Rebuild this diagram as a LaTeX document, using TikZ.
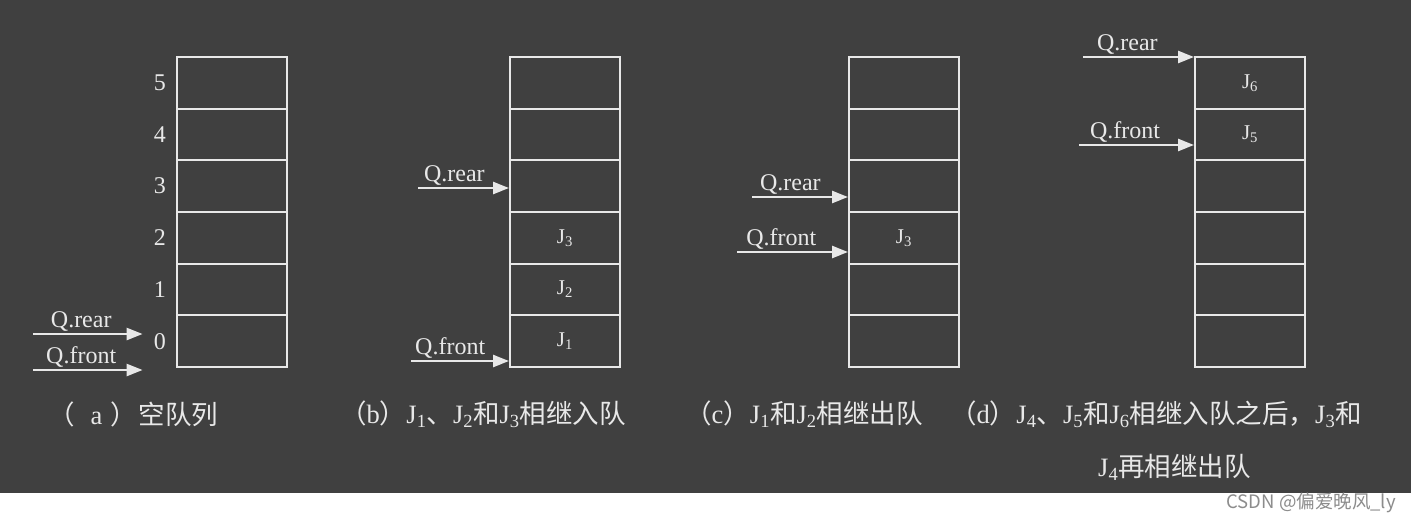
\documentclass[tikz,border=0pt]{standalone}
\usepackage{fontspec}
\setmainfont{Liberation Serif}
\newfontfamily\cjk{Noto Sans CJK SC}
\usetikzlibrary{arrows.meta}
\usetikzlibrary{positioning}
\definecolor{mdark}{rgb}{0.25, 0.25, 0.25}
\definecolor{mwhite}{rgb}{0.91, 0.91, 0.91}
\definecolor{mgray}{rgb}{0.55, 0.55, 0.55}
\tikzset{cell/.style = {draw = mwhite, line width = 2, minimum width = 110, minimum height = 51.67, inner sep = 0}}
\tikzset{jlab/.style = {text = mwhite, inner sep = 0, font = \fontsize{21}{21}\selectfont}}
\tikzset{idx/.style = {text = mwhite, inner sep = 0, font = \fontsize{24}{24}\selectfont}}
\tikzset{ptr/.style = {mwhite, line width = 2.5, -{Triangle[length = 16pt, width = 12pt]}}}
\tikzset{plab/.style = {above, pos = 0.4, inner sep = 1.5, text = mwhite, font = \fontsize{24}{24}\selectfont}}
\tikzset{captext/.style = {anchor = west, inner sep = 0, text = mwhite, font = \cjk\fontsize{26.5}{26.5}\selectfont}}
\newcommand{\Jsub}[1]{{\rmfamily J\textsubscript{#1}}}

\begin{document}
\begin{tikzpicture}[x=1pt, y=-1pt]
    \useasboundingbox (0, 0) rectangle (1411, 523);
    \fill [white] (0, 0) rectangle (1411, 523);
    \fill [mdark] (0, 0) rectangle (1411, 493);

    % the four queues, six cells each
    \foreach \q/\x in {a/232, b/565, c/904, d/1250}{
      \foreach \i in {0,...,5}{
        \node [cell] (q\q\i) at (\x, {367 - 51.67*(\i + 0.5)}) {};
      }
    }
    \foreach \i in {0,...,5}{
      \node [idx, left = 10 of qa\i] (ia\i) {\i};
    }

    \node [jlab] (jb1) at (qb0) {\Jsub{1}};
    \node [jlab] (jb2) at (qb1) {\Jsub{2}};
    \node [jlab] (jb3) at (qb2) {\Jsub{3}};
    \node [jlab] (jc3) at (qc2) {\Jsub{3}};
    \node [jlab] (jd5) at (qd4) {\Jsub{5}};
    \node [jlab] (jd6) at (qd5) {\Jsub{6}};

    % pointers
    \coordinate (ra) at (33, 334);
    \coordinate (fa) at (33, 370);
    \draw [ptr, shorten >= 11] (ra) -- node [plab] {Q.rear} (ra -| ia0.west);
    \draw [ptr, shorten >= 11] (fa) -- node [plab] {Q.front} (fa -| ia0.west);

    \coordinate (rb) at (418, 188);
    \coordinate (fb) at (411, 361);
    \draw [ptr] (rb) -- node [plab] {Q.rear} (rb -| qb3.west);
    \draw [ptr] (fb) -- node [plab] {Q.front} (fb -| qb0.west);

    \coordinate (rc) at (752, 197);
    \coordinate (fc) at (737, 252);
    \draw [ptr] (rc) -- node [plab] {Q.rear} (rc -| qc3.west);
    \draw [ptr] (fc) -- node [plab] {Q.front} (fc -| qc2.west);

    \coordinate (rd) at (1083, 57);
    \coordinate (fd) at (1079, 145);
    \draw [ptr] (rd) -- node [plab] {Q.rear} (rd -| qd5.west);
    \draw [ptr] (fd) -- node [plab] {Q.front} (fd -| qd4.west);

    % captions
    \node [captext] (capa) at (48, 414) {（\hspace{16pt}{\rmfamily a}\hspace{8pt}）\hspace{2pt}空队列};
    \node [captext] (capb) at (340, 414) {（{\rmfamily b}）\Jsub{1}、\Jsub{2}和\Jsub{3}相继入队};
    \node [captext] (capc) at (685, 414) {（{\rmfamily c}）\Jsub{1}和\Jsub{2}相继出队};
    \node [captext] (capd) at (950, 414) {（{\rmfamily d}）\Jsub{4}、\Jsub{5}和\Jsub{6}相继入队之后，\Jsub{3}和};
    \node [captext] (cape) at (1098, 467) {\Jsub{4}再相继出队};

    \node [anchor = east, inner sep = 0, text = mgray, font = \cjk\fontsize{18.5}{18.5}\selectfont] (mark) at (1396, 503) {CSDN @偏爱晚风\_ly};
  \end{tikzpicture}
\end{document}
